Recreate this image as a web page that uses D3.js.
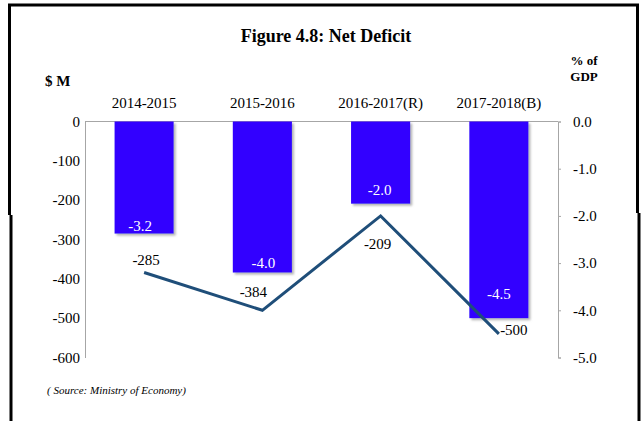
<!DOCTYPE html>
<html>
<head>
<meta charset="utf-8">
<script src="https://cdn.jsdelivr.net/npm/d3@7"></script>
<style>
  html, body { margin: 0; padding: 0; background: #fff; }
  svg { display: block; font-family: "Liberation Serif", "Times New Roman", serif; }
</style>
</head>
<body>
<svg id="chart" width="643" height="421"></svg>
<script>
// Net deficit by fiscal year: $ millions (bars) and % of GDP (line)
const categories = ["2014-2015", "2015-2016", "2016-2017(R)", "2017-2018(B)"];
const deficitMillions = [-285, -384, -209, -500];
const deficitPctGDP = [-3.2, -4.0, -2.0, -4.5];
const leftTicks = [0, -100, -200, -300, -400, -500, -600];
const rightTicks = [0, -1, -2, -3, -4, -5];

// label placement tweaks (px) relative to each mark
const barLabelShift = [[-4, -8], [1, -10], [-1, -14], [0, -24]];
const lineLabelShift = [[2, -13], [-9, -19], [-3, 28], [15, -4]];

const svg = d3.select("#chart");
const plot = { left: 85, right: 558, top: 121.5, bottom: 357.5 };

const x = d3.scaleBand().domain(categories)
  .range([plot.left, plot.right]).paddingInner(0.5).paddingOuter(0.25);
const yL = d3.scaleLinear().domain([-600, 0]).range([plot.bottom, plot.top]);
const yR = d3.scaleLinear().domain([-5, 0]).range([plot.bottom, plot.top]);

// soft shadow under the bars
const defs = svg.append("defs");
const f = defs.append("filter").attr("id", "barShadow")
  .attr("x", "-10%").attr("y", "-10%").attr("width", "130%").attr("height", "130%");
f.append("feDropShadow").attr("dx", 2).attr("dy", 2).attr("stdDeviation", 1.2)
  .attr("flood-color", "#777").attr("flood-opacity", 0.55);

// frame
const frame = svg.append("g").attr("stroke", "#000").attr("fill", "none");
frame.append("line").attr("x1", 8).attr("x2", 639).attr("y1", 5).attr("y2", 5).attr("stroke-width", 3);
frame.append("line").attr("x1", 9.5).attr("x2", 9.5).attr("y1", 4).attr("y2", 215).attr("stroke-width", 3);
frame.append("line").attr("x1", 11).attr("x2", 11).attr("y1", 215).attr("y2", 421).attr("stroke-width", 3);
frame.append("line").attr("x1", 637.5).attr("x2", 637.5).attr("y1", 4).attr("y2", 213).attr("stroke-width", 3);
frame.append("line").attr("x1", 639).attr("x2", 639).attr("y1", 213).attr("y2", 421).attr("stroke-width", 3);

// title and axis titles
svg.append("text").attr("x", 326).attr("y", 42).attr("text-anchor", "middle")
  .attr("font-size", 18).attr("font-weight", "bold").text("Figure 4.8: Net Deficit");
svg.append("text").attr("x", 45).attr("y", 86)
  .attr("font-size", 15).attr("font-weight", "bold").text("$ M");
svg.append("text").attr("x", 584).attr("y", 65).attr("text-anchor", "middle")
  .attr("font-size", 13).attr("font-weight", "bold").text("% of");
svg.append("text").attr("x", 584).attr("y", 81).attr("text-anchor", "middle")
  .attr("font-size", 13).attr("font-weight", "bold").text("GDP");

// left axis ($ M)
const gL = svg.append("g").attr("transform", `translate(${plot.left},0)`)
  .call(d3.axisLeft(yL).tickValues(leftTicks).tickSize(0).tickPadding(5));
gL.select(".domain").attr("stroke", "#a6a6a6");
gL.selectAll("text").attr("font-size", 15).attr("font-family", "Liberation Serif").attr("fill", "#000")
  .text(d => String(d));

// right axis (% of GDP)
const gR = svg.append("g").attr("transform", `translate(${plot.right},0)`)
  .call(d3.axisRight(yR).tickValues(rightTicks).tickSize(3).tickPadding(12));
gR.select(".domain").attr("stroke", "#a6a6a6");
gR.selectAll(".tick line").attr("stroke", "#a6a6a6");
gR.selectAll("text").attr("font-size", 15).attr("font-family", "Liberation Serif").attr("fill", "#000")
  .text(d => d.toFixed(1));

// category axis along zero
svg.append("line").attr("x1", plot.left).attr("x2", plot.right)
  .attr("y1", yL(0)).attr("y2", yL(0)).attr("stroke", "#a6a6a6");
svg.append("g").selectAll("text").data(categories).join("text")
  .attr("x", d => x(d) + x.bandwidth() / 2).attr("y", 108)
  .attr("text-anchor", "middle").attr("font-size", 15).text(d => d);

// bars
svg.append("g").selectAll("rect").data(categories).join("rect")
  .attr("x", d => x(d))
  .attr("y", yL(0))
  .attr("width", x.bandwidth())
  .attr("height", (d, i) => yL(deficitMillions[i]) - yL(0))
  .attr("fill", "#3300ff")
  .attr("filter", "url(#barShadow)");

// white value labels inside bars
svg.append("g").selectAll("text").data(categories).join("text")
  .attr("x", (d, i) => x(d) + x.bandwidth() / 2 + barLabelShift[i][0])
  .attr("y", (d, i) => yL(deficitMillions[i]) + barLabelShift[i][1])
  .attr("dy", "0.35em").attr("text-anchor", "middle")
  .attr("font-size", 15).attr("fill", "#fff")
  .text((d, i) => deficitPctGDP[i].toFixed(1));

// % of GDP line
const pts = categories.map((c, i) => [x(c) + x.bandwidth() / 2, yR(deficitPctGDP[i])]);
svg.append("path").datum(pts)
  .attr("d", d3.line())
  .attr("fill", "none").attr("stroke", "#1f4e79").attr("stroke-width", 3)
  .attr("stroke-linejoin", "miter");

// black value labels along the line
svg.append("g").selectAll("text").data(pts).join("text")
  .attr("x", (d, i) => d[0] + lineLabelShift[i][0])
  .attr("y", (d, i) => d[1] + lineLabelShift[i][1])
  .attr("dy", "0.35em").attr("text-anchor", "middle")
  .attr("font-size", 15).attr("fill", "#000")
  .text((d, i) => String(deficitMillions[i]));

// source note
svg.append("text").attr("x", 47).attr("y", 394)
  .attr("font-size", 11).attr("font-style", "italic")
  .text("( Source: Ministry of Economy)");
</script>
</body>
</html>
